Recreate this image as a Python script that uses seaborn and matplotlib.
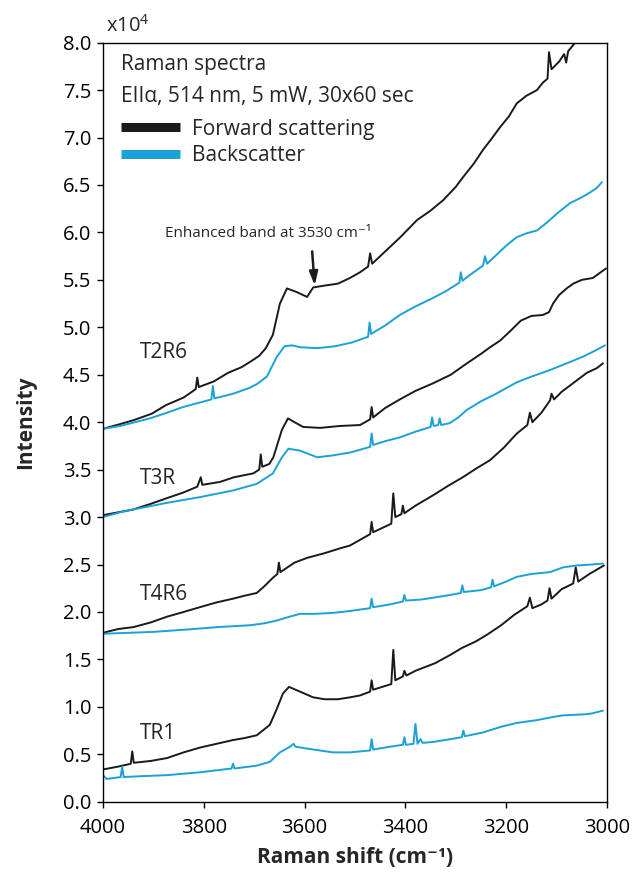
import numpy as np
import pandas as pd
import matplotlib
matplotlib.use("Agg")
import matplotlib.pyplot as plt
from matplotlib.lines import Line2D
import seaborn as sns

# ---------------- data (intensity in units of 1e4 counts) ----------------
t2r6_fwd_x = [4000, 3966, 3940, 3903, 3875, 3840, 3821, 3816, 3813, 3810, 3800, 3780, 3752, 3725, 3704,
              3690, 3677, 3663, 3649, 3635, 3615, 3595, 3583, 3560, 3534, 3510, 3490, 3474, 3470, 3466,
              3444, 3410, 3377, 3350, 3325, 3300, 3286, 3265, 3246, 3230, 3212, 3195, 3179, 3160, 3139,
              3127, 3118, 3115, 3110, 3095, 3085, 3081, 3077, 3060, 3040]
t2r6_fwd_y = [3.93, 3.98, 4.02, 4.09, 4.18, 4.26, 4.33, 4.35, 4.47, 4.37, 4.39, 4.43, 4.52, 4.58, 4.65,
              4.70, 4.78, 4.92, 5.25, 5.41, 5.37, 5.32, 5.42, 5.44, 5.46, 5.52, 5.58, 5.64, 5.78, 5.67,
              5.78, 5.95, 6.13, 6.23, 6.34, 6.48, 6.58, 6.72, 6.87, 6.98, 7.11, 7.22, 7.36, 7.44, 7.50,
              7.58, 7.62, 7.90, 7.72, 7.80, 7.88, 7.79, 7.91, 8.02, 8.20]

t2r6_back_x = [4000, 3966, 3907, 3873, 3841, 3785, 3782, 3779, 3742, 3710, 3695, 3675, 3655, 3640, 3625,
               3609, 3575, 3540, 3506, 3474, 3471, 3468, 3440, 3411, 3380, 3345, 3320, 3293, 3290, 3287,
               3270, 3246, 3242, 3238, 3220, 3200, 3179, 3160, 3139, 3120, 3099, 3073, 3050, 3034, 3020, 3010]
t2r6_back_y = [3.93, 3.96, 4.04, 4.10, 4.16, 4.24, 4.38, 4.25, 4.30, 4.36, 4.40, 4.48, 4.69, 4.80, 4.81,
               4.79, 4.78, 4.80, 4.84, 4.90, 5.05, 4.93, 5.02, 5.13, 5.22, 5.31, 5.38, 5.47, 5.58, 5.49,
               5.56, 5.65, 5.75, 5.67, 5.76, 5.86, 5.95, 5.99, 6.02, 6.10, 6.20, 6.31, 6.37, 6.42, 6.47, 6.53]

t3r_fwd_x = [4000, 3970, 3940, 3905, 3873, 3840, 3813, 3806, 3803, 3768, 3740, 3702, 3690, 3687, 3684,
             3670, 3662, 3645, 3633, 3620, 3603, 3569, 3530, 3490, 3470, 3467, 3464, 3440, 3411, 3380,
             3345, 3310, 3278, 3250, 3232, 3212, 3190, 3171, 3150, 3127, 3115, 3107, 3095, 3080, 3067,
             3050, 3028, 3002]
t3r_fwd_y = [3.02, 3.05, 3.08, 3.14, 3.20, 3.26, 3.32, 3.42, 3.34, 3.37, 3.42, 3.46, 3.50, 3.66, 3.53,
             3.56, 3.63, 3.92, 4.04, 4.00, 3.95, 3.94, 3.96, 3.97, 4.03, 4.16, 4.05, 4.15, 4.24, 4.33,
             4.41, 4.50, 4.62, 4.72, 4.79, 4.86, 4.97, 5.07, 5.12, 5.13, 5.16, 5.25, 5.34, 5.41, 5.46,
             5.50, 5.52, 5.62]

t3r_back_x = [4000, 3966, 3940, 3873, 3808, 3742, 3695, 3663, 3645, 3632, 3609, 3575, 3544, 3510, 3470,
              3467, 3464, 3440, 3411, 3380, 3350, 3347, 3344, 3335, 3332, 3329, 3312, 3295, 3278, 3250,
              3220, 3179, 3150, 3113, 3080, 3048, 3025, 3004]
t3r_back_y = [3.00, 3.05, 3.08, 3.15, 3.21, 3.28, 3.35, 3.46, 3.63, 3.72, 3.70, 3.63, 3.65, 3.68, 3.74,
              3.88, 3.76, 3.80, 3.84, 3.90, 3.95, 4.05, 3.96, 3.97, 4.04, 3.97, 3.99, 4.05, 4.13, 4.22,
              4.30, 4.42, 4.48, 4.55, 4.62, 4.69, 4.75, 4.81]

t4r6_fwd_x = [4000, 3970, 3940, 3905, 3873, 3840, 3808, 3775, 3742, 3720, 3695, 3680, 3663, 3654, 3651,
              3648, 3620, 3595, 3560, 3530, 3510, 3490, 3470, 3467, 3464, 3440, 3428, 3424, 3420, 3408,
              3405, 3402, 3380, 3345, 3315, 3286, 3260, 3232, 3205, 3179, 3158, 3153, 3148, 3130, 3113,
              3110, 3105, 3090, 3060, 3040, 3020, 3008]
t4r6_fwd_y = [1.78, 1.82, 1.84, 1.89, 1.95, 2.00, 2.05, 2.10, 2.14, 2.17, 2.20, 2.27, 2.36, 2.40, 2.52,
              2.42, 2.52, 2.57, 2.62, 2.67, 2.70, 2.76, 2.82, 2.95, 2.84, 2.90, 2.93, 3.25, 3.00, 3.03,
              3.12, 3.04, 3.12, 3.23, 3.33, 3.42, 3.51, 3.60, 3.73, 3.88, 3.97, 4.10, 4.00, 4.10, 4.23,
              4.30, 4.24, 4.32, 4.44, 4.52, 4.57, 4.62]

t4r6_back_x = [4000, 3950, 3900, 3873, 3820, 3774, 3740, 3708, 3680, 3655, 3630, 3609, 3580, 3544, 3510,
               3470, 3467, 3464, 3430, 3405, 3402, 3399, 3370, 3345, 3310, 3290, 3287, 3284, 3250, 3230,
               3227, 3224, 3200, 3179, 3150, 3113, 3087, 3060, 3030, 3008]
t4r6_back_y = [1.77, 1.78, 1.79, 1.80, 1.82, 1.84, 1.85, 1.86, 1.88, 1.91, 1.95, 1.98, 1.98, 1.99, 2.01,
               2.04, 2.14, 2.05, 2.08, 2.11, 2.18, 2.12, 2.13, 2.15, 2.18, 2.20, 2.28, 2.21, 2.23, 2.26,
               2.34, 2.27, 2.32, 2.37, 2.40, 2.42, 2.47, 2.49, 2.50, 2.51]

tr1_fwd_x = [4000, 3970, 3945, 3942, 3939, 3905, 3873, 3840, 3808, 3775, 3742, 3720, 3695, 3669, 3655,
             3643, 3631, 3609, 3583, 3560, 3534, 3510, 3490, 3470, 3467, 3464, 3440, 3428, 3424, 3420,
             3405, 3402, 3398, 3380, 3341, 3310, 3288, 3260, 3238, 3210, 3184, 3158, 3153, 3148, 3130,
             3118, 3114, 3110, 3090, 3067, 3062, 3057, 3035, 3006]
tr1_fwd_y = [0.34, 0.37, 0.40, 0.53, 0.41, 0.43, 0.46, 0.52, 0.57, 0.61, 0.65, 0.67, 0.70, 0.81, 0.98,
             1.14, 1.21, 1.16, 1.10, 1.08, 1.08, 1.10, 1.12, 1.16, 1.28, 1.18, 1.22, 1.24, 1.60, 1.28,
             1.32, 1.38, 1.33, 1.38, 1.46, 1.55, 1.62, 1.69, 1.76, 1.86, 1.97, 2.06, 2.15, 2.04, 2.08,
             2.12, 2.25, 2.14, 2.24, 2.30, 2.47, 2.32, 2.40, 2.49]

tr1_back_x = [4000, 3993, 3965, 3962, 3959, 3920, 3873, 3808, 3745, 3742, 3739, 3695, 3669, 3649, 3629,
              3622, 3618, 3595, 3544, 3510, 3470, 3467, 3464, 3430, 3405, 3402, 3399, 3384, 3380, 3376,
              3370, 3366, 3345, 3310, 3288, 3285, 3282, 3246, 3210, 3179, 3139, 3110, 3087, 3048, 3030, 3008]
tr1_back_y = [0.28, 0.24, 0.26, 0.37, 0.26, 0.27, 0.28, 0.31, 0.35, 0.40, 0.35, 0.38, 0.42, 0.52, 0.58,
              0.61, 0.58, 0.56, 0.52, 0.52, 0.54, 0.66, 0.55, 0.58, 0.60, 0.68, 0.60, 0.61, 0.82, 0.61,
              0.66, 0.62, 0.63, 0.66, 0.68, 0.75, 0.69, 0.73, 0.79, 0.83, 0.86, 0.89, 0.91, 0.92, 0.93, 0.96]

samples = ["T2R6", "T3R", "T4R6", "TR1"]
sample_label_pos = [(3927, 4.73), (3927, 3.41), (3927, 2.18), (3927, 0.72)]
geometries = ["Forward scattering", "Backscatter"]
series = {
    ("T2R6", "Forward scattering"): (t2r6_fwd_x, t2r6_fwd_y),
    ("T2R6", "Backscatter"): (t2r6_back_x, t2r6_back_y),
    ("T3R", "Forward scattering"): (t3r_fwd_x, t3r_fwd_y),
    ("T3R", "Backscatter"): (t3r_back_x, t3r_back_y),
    ("T4R6", "Forward scattering"): (t4r6_fwd_x, t4r6_fwd_y),
    ("T4R6", "Backscatter"): (t4r6_back_x, t4r6_back_y),
    ("TR1", "Forward scattering"): (tr1_fwd_x, tr1_fwd_y),
    ("TR1", "Backscatter"): (tr1_back_x, tr1_back_y),
}
x_ticks = [4000, 3800, 3600, 3400, 3200, 3000]
y_ticks = [0.0, 0.5, 1.0, 1.5, 2.0, 2.5, 3.0, 3.5, 4.0, 4.5, 5.0, 5.5, 6.0, 6.5, 7.0, 7.5, 8.0]

rows = []
for (s, g), (xs, ys) in series.items():
    for xv, yv in zip(xs, ys):
        rows.append({"sample": s, "geometry": g, "shift": xv, "intensity": yv, "unit": s + g})
df = pd.DataFrame(rows)

# ---------------- style ----------------
sns.set_style("ticks")
FONT = ["Open Sans", "DejaVu Sans"]
plt.rcParams["font.family"] = FONT
plt.rcParams["mathtext.fontset"] = "custom"
plt.rcParams["mathtext.rm"] = "Open Sans"
plt.rcParams["mathtext.it"] = "Open Sans:italic"
plt.rcParams["mathtext.bf"] = "Open Sans:bold"
plt.rcParams["axes.linewidth"] = 1.0
plt.rcParams["xtick.major.width"] = 1.0
plt.rcParams["ytick.major.width"] = 1.0
plt.rcParams["xtick.major.size"] = 4.5
plt.rcParams["ytick.major.size"] = 4.5
plt.rcParams["xtick.direction"] = "out"
plt.rcParams["ytick.direction"] = "out"

BLACK = "#1a1a1a"
BLUE = "#1ba1d6"
palette = {"Forward scattering": BLACK, "Backscatter": BLUE}

fig = plt.figure(figsize=(6.32, 8.76), dpi=100)
ax = fig.add_axes([0.163, 0.0848, 0.7974, 0.8665])

sns.lineplot(data=df, x="shift", y="intensity", hue="geometry", units="unit",
             estimator=None, sort=False, palette=palette, linewidth=1.4,
             legend=False, ax=ax)

ax.set_xlim(4000, 3000)
ax.set_ylim(0, 8.0)
ax.set_xticks(x_ticks)
ax.set_yticks(y_ticks)
ax.set_yticklabels([f"{v:.1f}" for v in y_ticks])
ax.tick_params(axis="y", labelsize=14.5, colors="black", pad=4)
ax.tick_params(axis="x", labelsize=14.5, colors="black", pad=7)
for sp in ax.spines.values():
    sp.set_visible(True)
    sp.set_color("black")

ax.set_xlabel("Raman shift (cm\u207b\u00b9)", fontsize=15, fontweight="bold", labelpad=7)
ax.set_ylabel("Intensity", fontsize=15, fontweight="bold", labelpad=19)

# exponent marker
ax.text(0.005, 1.008, r"x10$^{4}$", transform=ax.transAxes, fontsize=14.5,
        ha="left", va="bottom")

# sample labels
for s, (lx, ly) in zip(samples, sample_label_pos):
    ax.text(lx, ly, s, fontsize=15, ha="left", va="center", family=FONT)

# annotation
ax.annotate("", xy=(3580, 5.44), xytext=(3585, 5.80),
            arrowprops=dict(arrowstyle="-|>,head_length=0.8,head_width=0.25",
                            color=BLACK, lw=1.8, shrinkA=0, shrinkB=0))
ax.text(3673, 5.99, "Enhanced band at 3530 cm\u207b\u00b9", fontsize=11,
        ha="center", va="center", family=FONT)

# legend
handles = [Line2D([0], [0], color=palette[g], lw=6.5, solid_capstyle="butt") for g in geometries]
leg = ax.legend(handles, geometries, title="Raman spectra\nEII\u03b1, 514 nm, 5 mW, 30x60 sec",
                loc="upper left", bbox_to_anchor=(0.0047, 1.005), frameon=False,
                fontsize=15, title_fontsize=15, handlelength=2.84, handletextpad=0.58,
                labelspacing=0.27, borderpad=0.75, borderaxespad=0, alignment="left")
leg.get_title().set_linespacing(1.68)
# extra gap between the legend title block and the entries
leg._legend_box.sep = 0.27 * 15 + 4.0

fig.savefig("out.png", dpi=100)
